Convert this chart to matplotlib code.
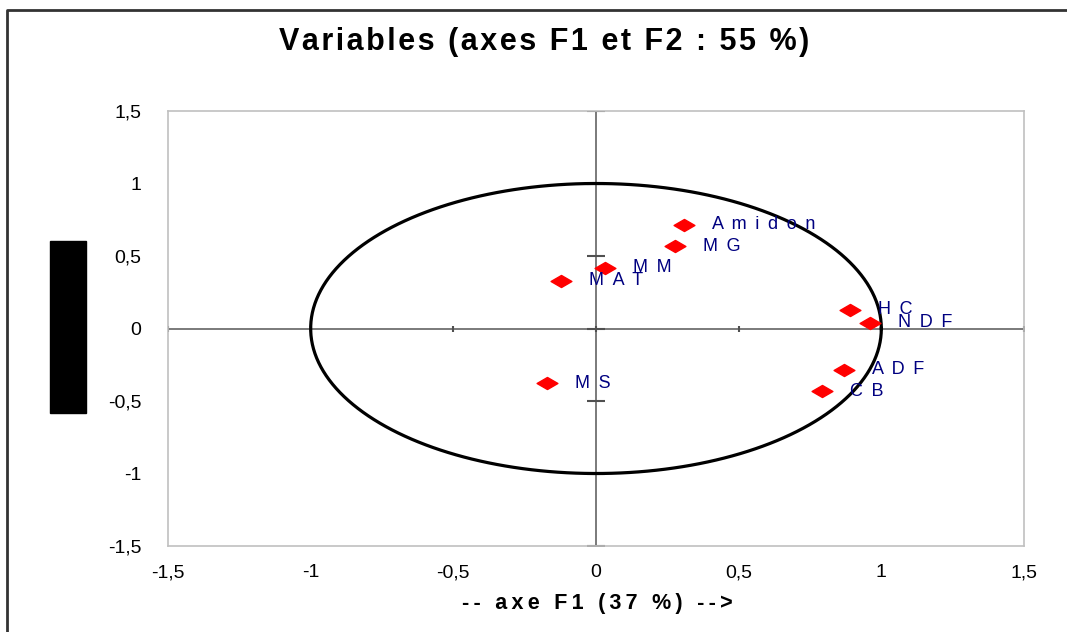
import numpy as np
import matplotlib
matplotlib.use("Agg")
import matplotlib.pyplot as plt
import matplotlib.patches as patches
from matplotlib.lines import Line2D
from matplotlib.path import Path

plt.rcParams['font.family'] = ['Liberation Sans', 'DejaVu Sans']

# variable coordinates on F1 / F2
names = ["Amidon", "MG", "MM", "MAT", "HC", "NDF", "ADF", "CB", "MS"]
f1 = [0.31, 0.277, 0.032, -0.123, 0.89, 0.96, 0.87, 0.792, -0.172]
f2 = [0.717, 0.566, 0.42, 0.331, 0.131, 0.041, -0.283, -0.434, -0.379]

ticks = [-1.5, -1, -0.5, 0, 0.5, 1, 1.5]
tick_labels = ["-1,5", "-1", "-0,5", "0", "0,5", "1", "1,5"]


def spaced(s, sep):
    # fake letter spacing
    return sep.join(s)


fig = plt.figure(figsize=(10.67, 6.32), dpi=100)
ax = fig.add_axes([168/1067, 1-546/632, (1024-168)/1067, (546-111)/632])

# correlation circle
t = np.linspace(0, 2*np.pi, 200)
ax.plot(np.cos(t), np.sin(t), color='black', lw=2.3, zorder=2)

# axes through origin
ax.axhline(0, color='#707070', lw=1.3, zorder=1)
ax.axvline(0, color='#707070', lw=1.3, zorder=1)
ax.plot([0]*len(ticks), ticks, ls='none', marker='_', ms=13, mew=1.5,
        color='#505050', zorder=1)
ax.plot(ticks, [0]*len(ticks), ls='none', marker='|', ms=4, mew=1.5,
        color='#505050', zorder=1)

# flattened diamond marker
diamond = Path([(-1, 0), (0, 0.58), (1, 0), (0, -0.58), (-1, 0)],
               [Path.MOVETO, Path.LINETO, Path.LINETO, Path.LINETO, Path.CLOSEPOLY])
ax.plot(f1, f2, ls='none', marker=diamond, ms=15, color='#ff0000',
        mec='#ff0000', zorder=3)

for n, x, y in zip(names, f1, f2):
    ax.annotate(spaced(n, ' \u2009'), (x, y), xytext=(20, 0),
                textcoords='offset points', color='#000080', fontsize=13,
                va='center', ha='left', zorder=4)

ax.set_xlim(-1.5, 1.5)
ax.set_ylim(-1.5, 1.5)
ax.set_xticks(ticks)
ax.set_xticklabels(tick_labels)
ax.set_yticks(ticks)
ax.set_yticklabels(tick_labels)
ax.tick_params(length=0, labelsize=14, pad=13)
ax.tick_params(axis='y', pad=19)
for s in ax.spines.values():
    s.set_color('#c0c0c0')
    s.set_linewidth(1.2)

fig.text(544/1067, 1-42/632, spaced("Variables (axes F1 et F2 : 55 %)", '\u200a'),
         ha='center', va='center', fontsize=22, fontweight='bold')
fig.text(597/1067, 1-604/632, spaced("-- axe F1 (37 %) -->", '\u2009'),
         ha='center', va='center', fontsize=15.5, fontweight='bold')

# black block at left (label artefact)
fig.patches.append(patches.Rectangle((50/1067, 1-413/632), 36/1067, 172/632,
                                     transform=fig.transFigure, color='black'))

# outer frame (top and left)
fig.lines.append(Line2D([7/1067, 7/1067, 1], [0, 1-10/632, 1-10/632],
                        transform=fig.transFigure, color='#333333', lw=2))

fig.savefig("out.png", dpi=100)
